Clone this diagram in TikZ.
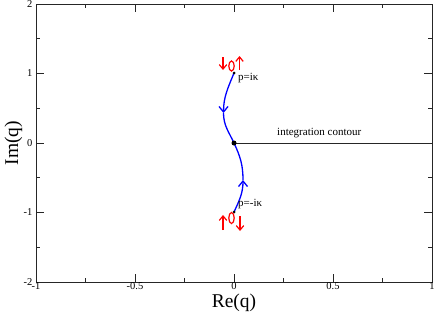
\documentclass[tikz,border=0pt]{standalone}
\usepackage{fontspec}
\setmainfont{Liberation Serif}
\usetikzlibrary{arrows.meta}
\begin{document}
\begin{tikzpicture}[x=1pt,y=1pt,
  frame/.style={draw=black!85,line width=1pt},
  tickmark/.style={draw=black!85,line width=0.8pt},
  ticklab/.style={font=\fontsize{10.5}{12}\selectfont,inner sep=0pt},
  axlab/.style={font=\fontsize{19.5}{22}\selectfont,inner sep=0pt},
  curve/.style={draw=blue,line width=1.3pt},
  cuarrow/.style={curve,-{Straight Barb[length=5.5pt,width=9pt]}},
  redarrow/.style={draw=red,line width=1.2pt,-{Straight Barb[length=4.5pt,width=7.5pt]}},
  redloop/.style={draw=red,line width=1.2pt},
  lab/.style={font=\fontsize{11}{13}\selectfont,inner sep=0pt}]
\useasboundingbox (0,0) rectangle (436,317);
\draw[frame] (36,35) rectangle (432,313);
% ticks
\foreach \y in {104.5,174,243.5} {
  \draw[tickmark] (36,\y) -- ++(8,0);
  \draw[tickmark] (432,\y) -- ++(-8,0);}
\foreach \y in {69.75,139.25,208.75,278.25} {
  \draw[tickmark] (36,\y) -- ++(4,0);
  \draw[tickmark] (432,\y) -- ++(-4,0);}
\foreach \x in {135,234,333} {
  \draw[tickmark] (\x,35) -- ++(0,8);
  \draw[tickmark] (\x,313) -- ++(0,-8);}
\foreach \x in {85.5,184.5,283.5,382.5} {
  \draw[tickmark] (\x,35) -- ++(0,4);
  \draw[tickmark] (\x,313) -- ++(0,-4);}
% tick labels
\node[ticklab,anchor=east] (y2) at (32.5,313) {2};
\node[ticklab,anchor=east] (y1) at (32.5,243.5) {1};
\node[ticklab,anchor=east] (y0) at (32.5,174) {0};
\node[ticklab,anchor=east] (ym1) at (32.5,104.5) {-1};
\node[ticklab,anchor=east] (ym2) at (32.5,35) {-2};
\node[ticklab,anchor=north] (xm1) at (36,34.5) {-1};
\node[ticklab,anchor=north] (xm05) at (135,34.5) {-0.5};
\node[ticklab,anchor=north] (x0) at (234,34.5) {0};
\node[ticklab,anchor=north] (x05) at (333,34.5) {0.5};
\node[ticklab,anchor=north] (x1) at (432,34.5) {1};
% axis labels
\node[axlab] (xlab) at (234,14.5) {Re(q)};
\node[axlab,rotate=90] (ylab) at (13.5,174) {Im(q)};
% points
\coordinate (P1) at (234,244);
\coordinate (O) at (234,174);
\coordinate (P2) at (234,105);
\coordinate (A1) at (223.5,204);
\coordinate (A2) at (243,137);
\coordinate (R) at (432,174);
% integration contour
\draw[black!85,line width=1pt] (O) -- (R);
\node[lab,anchor=base west] (ic) at (277,182) {integration contour};
% blue path
\draw[cuarrow] (P1) to[out=-112,in=90] (A1);
\draw[curve] (A1) to[out=-90,in=115] (O);
\draw[cuarrow] (P2) to[out=65,in=-90] (A2);
\draw[curve] (A2) to[out=90,in=-65] (O);
\fill (O) circle (2.5);
\fill (P1) circle (1.5);
\fill (P2) circle (1.5);
% red markers
\draw[redarrow] (223,260) -- (223,247);
\draw[redloop] (231.5,251) ellipse (2.7 and 5);
\draw[redarrow] (239.5,247) -- (239.5,261);
\draw[redarrow] (223,87) -- (223,102);
\draw[redloop] (231.5,99) ellipse (2.7 and 5.5);
\draw[redarrow] (240,101) -- (240,86);
% labels
\node[lab,anchor=west] (pk) at (238,239) {p=iκ};
\node[lab,anchor=west] (mk) at (238,113) {p=-iκ};
\end{tikzpicture}
\end{document}
